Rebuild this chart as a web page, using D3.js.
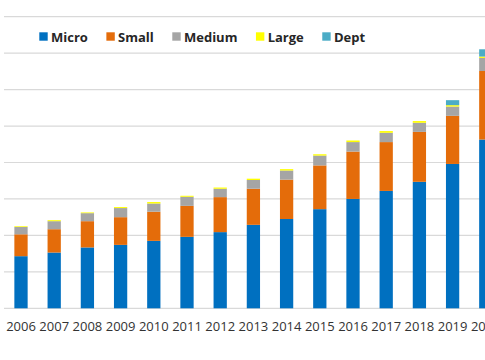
<!DOCTYPE html>
<html>
<head>
<meta charset="utf-8">
<script src="https://cdn.jsdelivr.net/npm/d3@7"></script>
<style>
  html, body { margin: 0; padding: 0; background: #fff; overflow: hidden; }
  svg { display: block; }
</style>
</head>
<body>
<svg id="chart" width="485" height="360"></svg>
<script>
// ---- data (units: one gridline step = 10) ----
const years  = ["2006","2007","2008","2009","2010","2011","2012","2013","2014","2015","2016","2017","2018","2019","2020"];
const micro  = [14.3, 15.3, 16.7, 17.4, 18.5, 19.6, 20.9, 22.9, 24.5, 27.2, 30.0, 32.2, 34.7, 39.6, 46.3];
const small  = [ 6.0,  6.4,  7.2,  7.6,  8.0,  8.5,  9.6,  9.9, 10.8, 12.0, 13.0, 13.4, 13.7, 13.2, 18.8];
const medium = [ 2.0,  2.2,  2.2,  2.5,  2.25, 2.5,  2.3,  2.4,  2.5,  2.7,  2.6,  2.55, 2.5,  2.55, 3.6];
const large  = [ 0.2,  0.27, 0.2,  0.27, 0.4,  0.27, 0.33, 0.36, 0.38, 0.36, 0.44, 0.47, 0.47, 0.38, 0.36];
const dept   = [ 0,    0,    0,    0,    0,    0,    0,    0,    0,    0,    0,    0,    0,    1.37, 2.0];
const seriesNames = ["Micro","Small","Medium","Large","Dept"];
const yTicks = [0,10,20,30,40,50,60,70,80];

const seriesValues = [micro, small, medium, large, dept];
const colors = ["#0070C0","#E46C0A","#A5A5A5","#FFFF00","#4BACC6"];

const table = years.map((yr, i) => {
  const row = { year: yr };
  seriesNames.forEach((s, k) => row[s] = seriesValues[k][i]);
  return row;
});

const svg = d3.select("#chart");

const x = d3.scaleBand().domain(years).range([4.4, 502.4]).paddingInner(0.6).paddingOuter(0.3);
const y = d3.scaleLinear().domain([0, 80]).range([308.3, 16.7]);

// gridlines
svg.append("g").selectAll("line").data(yTicks).join("line")
  .attr("x1", 4).attr("x2", 485)
  .attr("y1", d => y(d)).attr("y2", d => y(d))
  .attr("stroke", "#D9D9D9").attr("stroke-width", 1.2);

// stacked bars
const stack = d3.stack().keys(seriesNames)(table);
svg.append("g").selectAll("g").data(stack).join("g")
  .attr("fill", (d, i) => colors[i])
  .selectAll("rect").data(d => d).join("rect")
  .attr("x", d => x(d.data.year))
  .attr("width", x.bandwidth())
  .attr("y", d => y(d[1]))
  .attr("height", d => Math.max(0, y(d[0]) - y(d[1])));

// x axis labels
const xAxis = d3.axisBottom(x).tickSize(0).tickPadding(0);
const gx = svg.append("g").attr("transform", "translate(0,321.5)").call(xAxis);
gx.select(".domain").remove();
gx.selectAll("text")
  .attr("font-family", "'Open Sans', sans-serif")
  .attr("font-size", "13px")
  .attr("fill", "#333333")
  .attr("dy", "0.71em");

// legend
const lg = svg.append("g");
let lx = 39.3;
seriesNames.forEach((name, i) => {
  lg.append("rect").attr("x", lx).attr("y", 32.3).attr("width", 8.4).attr("height", 8.4).attr("fill", colors[i]);
  const t = lg.append("text").attr("x", lx + 11.7).attr("y", 41.8)
    .attr("font-family", "'Open Sans', sans-serif")
    .attr("font-weight", "bold")
    .attr("font-size", "13px")
    .attr("fill", "#262626")
    .text(name);
  const w = t.node().getComputedTextLength();
  lx = lx + 11.7 + w + 18.5;
});
</script>
</body>
</html>
